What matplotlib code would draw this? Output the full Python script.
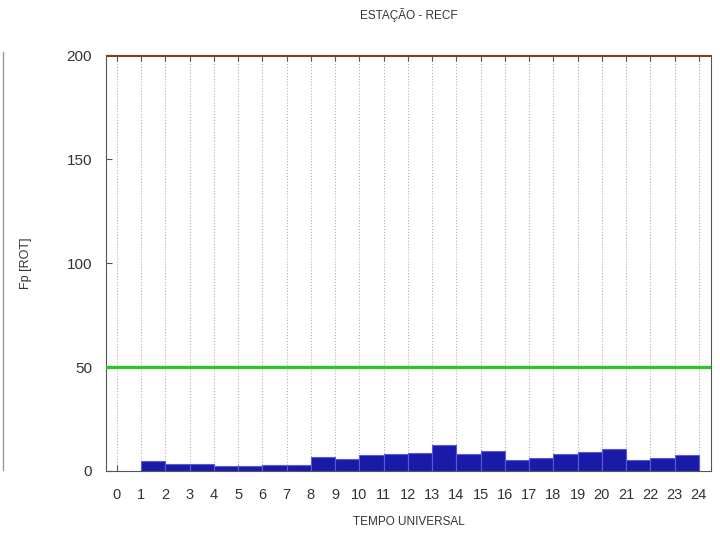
import numpy as np
import matplotlib.pyplot as plt
from matplotlib.lines import Line2D

plt.rcParams['font.family'] = ['Liberation Sans', 'DejaVu Sans']

hours = np.arange(1, 24)  # left edge of each hourly bin
fp_rot = [5.0, 3.4, 3.4, 2.6, 2.6, 3.0, 3.0, 6.6, 5.8, 7.7, 8.3, 8.8,
          12.3, 8.2, 9.6, 5.3, 6.4, 8.2, 9.3, 10.4, 5.3, 6.4, 7.7]
upper_limit = 200
lower_limit = 50
xticks = list(range(0, 25))
yticks = [0, 50, 100, 150, 200]

fig = plt.figure(figsize=(7.2, 5.43), dpi=100)
ax = fig.add_axes([0.147, 0.1326, 0.8405, 0.7661])

ax.bar(hours, fp_rot, width=1.0, align='edge', color='#1a1aa8',
       edgecolor='#5a5ae0', linewidth=0.8, zorder=3)

ax.axhline(upper_limit, color='#8b3a1a', lw=2.2, zorder=4)
ax.axhline(lower_limit, color='#2fc42f', lw=2.4, zorder=4)

ax.set_xlim(-0.45, 24.5)
ax.set_ylim(0, 200)
ax.set_xticks(xticks)
ax.set_yticks(yticks)
ax.grid(axis='x', color='#b0b0b0', linestyle=':', linewidth=0.8, zorder=0)
ax.tick_params(direction='in', top=True, length=4,
               labelcolor='#333333', color='#555555')
ax.tick_params(axis='x', labelsize=10.5, pad=12)
ax.tick_params(axis='y', labelsize=11, pad=10)
for s in ax.spines.values():
    s.set_color('#555555')

ax.set_title('ESTAÇÃO - RECF', fontsize=8.5, color='#333333', pad=26)
ax.set_xlabel('TEMPO UNIVERSAL', fontsize=8.5, color='#333333', labelpad=10)
ax.set_ylabel('Fp [ROT]', fontsize=9, color='#333333', labelpad=25)

fig.add_artist(Line2D([0.004, 0.004], [0.135, 0.905], color='#999999', lw=1.0))

fig.savefig('out.png', dpi=100)
